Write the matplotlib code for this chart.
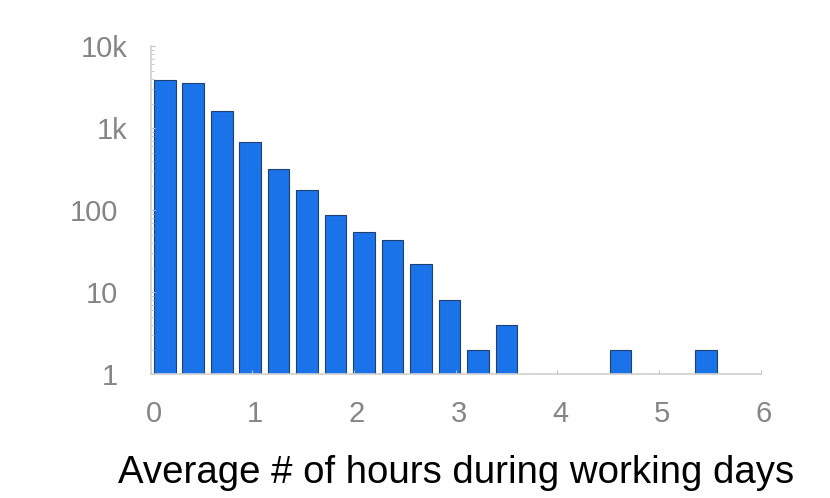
import matplotlib
matplotlib.use("Agg")
import matplotlib.pyplot as plt
import matplotlib.transforms as mtrans
from matplotlib.ticker import FixedLocator, LogLocator, NullFormatter

bin_width = 0.28
bin_index = [0, 1, 2, 3, 4, 5, 6, 7, 8, 9, 10, 11, 12, 16, 19]
counts = [3850, 3540, 1610, 675, 316, 177, 88, 55, 44, 22, 8, 2, 4, 2, 2]
x_ticks = [0, 1, 2, 3, 4, 5, 6]
y_ticks = [1, 10, 100, 1000, 10000]
y_labels = ["1", "10", "100", "1k", "10k"]
x_label = "Average # of hours during working days"

plt.rcParams['font.family'] = ['Liberation Sans', 'DejaVu Sans']

fig = plt.figure(figsize=(8.3, 4.98), dpi=100)
ax = fig.add_axes([150.5 / 830, 1 - 374.3 / 498, (760.7 - 150.5) / 830, (374.3 - 46.3) / 498])

lefts = [i * bin_width + bin_width * 0.12 for i in bin_index]
ax.bar(lefts, counts, width=bin_width * 0.76, align='edge',
       color='#1a73e8', edgecolor='#1f3f6e', linewidth=0.8)

ax.set_yscale('log')
ax.set_ylim(1, 10000)
ax.set_xlim(0, 6)
ax.yaxis.set_major_locator(FixedLocator(y_ticks))
ax.set_yticklabels(y_labels)
ax.yaxis.set_minor_locator(LogLocator(base=10, subs=range(2, 10)))
ax.yaxis.set_minor_formatter(NullFormatter())
ax.xaxis.set_major_locator(FixedLocator(x_ticks))
ax.set_xticklabels([str(t) for t in x_ticks])

for s in ['top', 'right']:
    ax.spines[s].set_visible(False)
for s in ['left', 'bottom']:
    ax.spines[s].set_color('#d0d0d0')
    ax.spines[s].set_linewidth(1.2)

ax.tick_params(axis='both', which='both', direction='in', color='#c0c0c0',
               labelcolor='#858585', labelsize=21)
ax.tick_params(axis='y', which='major', length=3, pad=23.5)
ax.tick_params(axis='y', which='minor', length=2)
ax.tick_params(axis='x', which='major', length=3, pad=18.5)

# label offsets
kshift = mtrans.ScaledTranslation(10 / 100, 0, fig.dpi_scale_trans)
for lab in ax.get_yticklabels():
    if 'k' in lab.get_text():
        lab.set_transform(lab.get_transform() + kshift)
xshift = mtrans.ScaledTranslation(3 / 100, 0, fig.dpi_scale_trans)
for lab in ax.get_xticklabels():
    lab.set_transform(lab.get_transform() + xshift)

ax.set_xlabel(x_label, fontsize=27.6, color='black', va='baseline')
ax.xaxis.set_label_coords(0.5, -0.3305)

fig.savefig('out.png', dpi=100)
